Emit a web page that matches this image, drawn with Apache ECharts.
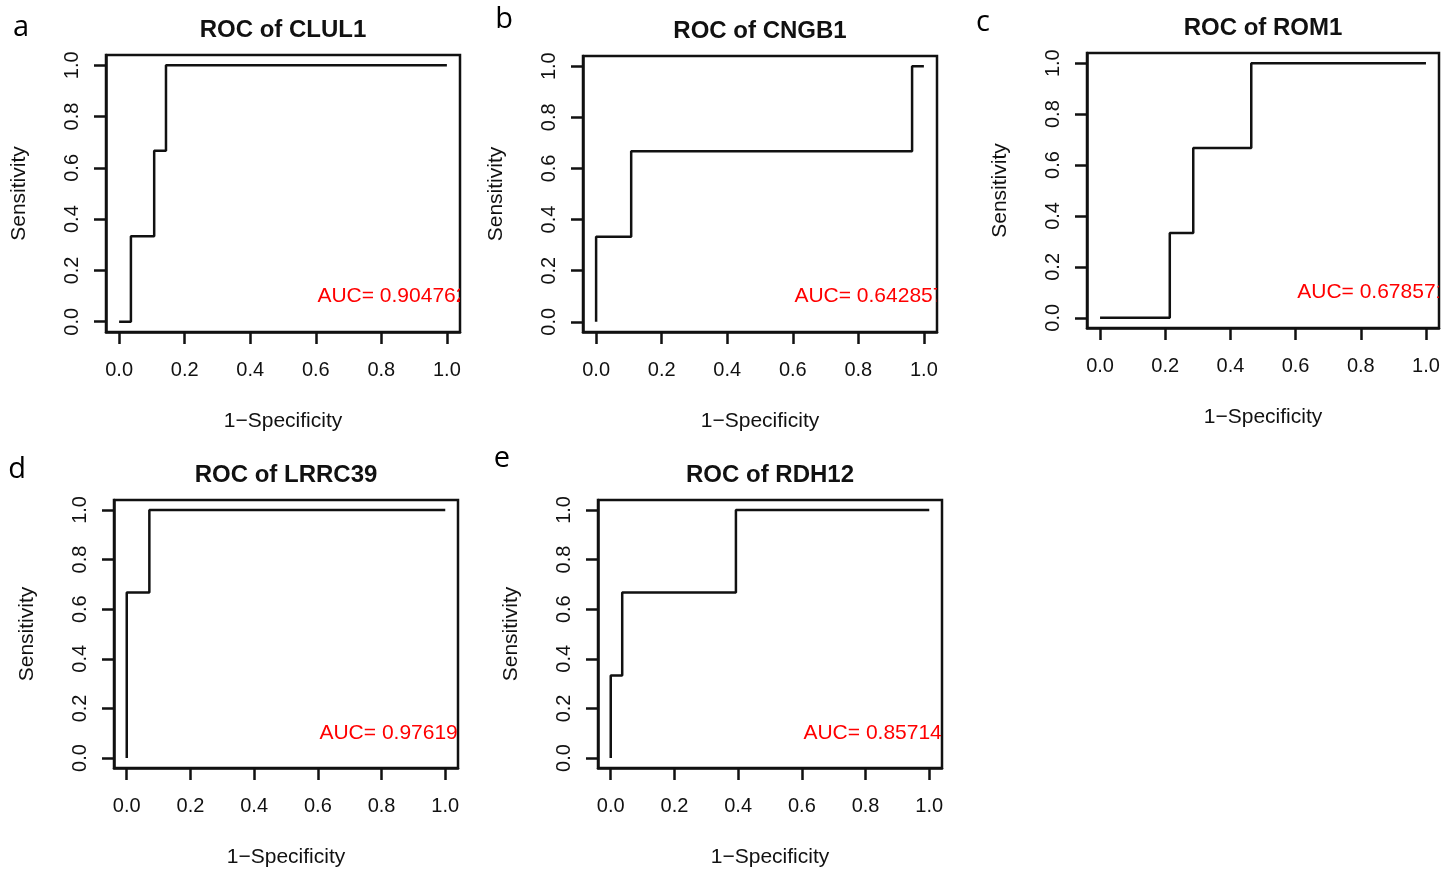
<!DOCTYPE html>
<html>
<head>
<meta charset="utf-8">
<script src="https://cdn.jsdelivr.net/npm/echarts@6/dist/echarts.min.js"></script>
<style>
  html, body { margin: 0; padding: 0; background: #fff; }
  #main { width: 1455px; height: 869px; }
</style>
</head>
<body>
<div id="main"></div>
<script>
// ROC curves, one panel per gene
var genes = ['CLUL1', 'CNGB1', 'ROM1', 'LRRC39', 'RDH12'];
var letters = ['a', 'b', 'c', 'd', 'e'];
var aucLabels = ['AUC= 0.904762', 'AUC= 0.642857', 'AUC= 0.678571', 'AUC= 0.976190', 'AUC= 0.857143'];

var fprCLUL1 = [0, 0.036, 0.036, 0.107, 0.107, 0.143, 0.143, 1];
var tprCLUL1 = [0, 0, 0.333, 0.333, 0.667, 0.667, 1, 1];
var fprCNGB1 = [0, 0, 0.107, 0.107, 0.964, 0.964, 1];
var tprCNGB1 = [0, 0.333, 0.333, 0.667, 0.667, 1, 1];
var fprROM1 = [0, 0.214, 0.214, 0.286, 0.286, 0.464, 0.464, 1];
var tprROM1 = [0, 0, 0.333, 0.333, 0.667, 0.667, 1, 1];
var fprLRRC39 = [0, 0, 0.071, 0.071, 1];
var tprLRRC39 = [0, 0.667, 0.667, 1, 1];
var fprRDH12 = [0, 0, 0.036, 0.036, 0.393, 0.393, 1];
var tprRDH12 = [0, 0.333, 0.333, 0.667, 0.667, 1, 1];

var tickValues = [0, 0.2, 0.4, 0.6, 0.8, 1];

var fprs = [fprCLUL1, fprCNGB1, fprROM1, fprLRRC39, fprRDH12];
var tprs = [tprCLUL1, tprCNGB1, tprROM1, tprLRRC39, tprRDH12];

// plot boxes [left, top, width, height]
var boxes = [
  [106, 55, 354, 277],
  [583, 56, 354, 276],
  [1087, 53, 352, 275],
  [114, 500, 344, 268],
  [598, 500, 344, 268]
];
var letterPos = [[21, 28], [504, 20], [983, 23], [17, 470], [502, 459]];

var FONT = '"Liberation Sans", Arial, sans-serif';
var INK = '#111';

var grids = [], xAxes = [], yAxes = [], series = [], graphics = [];

boxes.forEach(function (b, i) {
  grids.push({
    left: b[0], top: b[1], width: b[2], height: b[3],
    show: true, borderColor: INK, borderWidth: 2.5, backgroundColor: '#fff'
  });
  var axisCommon = {
    type: 'value', gridIndex: i, min: -0.04, max: 1.04,
    splitLine: { show: false },
    axisLine: { show: true, onZero: false, lineStyle: { color: INK, width: 2.5 } },
    axisTick: { show: true, inside: false, length: 12, customValues: tickValues, lineStyle: { color: INK, width: 2.5 } },
    axisLabel: {
      customValues: tickValues, color: INK, fontFamily: FONT, fontSize: 20,
      formatter: function (v) { return v.toFixed(1); }
    },
    nameLocation: 'middle',
    nameTextStyle: { color: INK, fontFamily: FONT, fontSize: 21 }
  };
  xAxes.push(Object.assign({}, axisCommon, {
    position: 'bottom', name: '1\u2212Specificity', nameGap: 79,
    axisLabel: Object.assign({}, axisCommon.axisLabel, { margin: 28 })
  }));
  yAxes.push(Object.assign({}, axisCommon, {
    position: 'left', name: 'Sensitivity', nameGap: 76, nameRotate: 90,
    axisLabel: Object.assign({}, axisCommon.axisLabel, { margin: 24, rotate: 90 })
  }));
  var pts = fprs[i].map(function (x, k) { return [x, tprs[i][k]]; });
  series.push({
    type: 'line', xAxisIndex: i, yAxisIndex: i, data: pts,
    showSymbol: false, symbol: 'none', silent: true,
    lineStyle: { color: INK, width: 2.5 }
  });
  // AUC text, clipped by the plot box like R does
  series.push({
    type: 'custom', xAxisIndex: i, yAxisIndex: i, clip: true, silent: true,
    data: [[0.605, 0.1]],
    renderItem: function (params, api) {
      var p = api.coord([api.value(0), api.value(1)]);
      return {
        type: 'text', x: p[0], y: p[1],
        style: { text: aucLabels[i], fill: '#ff0000', font: '21px ' + FONT, align: 'left', verticalAlign: 'middle' }
      };
    }
  });
  graphics.push({
    type: 'text', x: b[0] + b[2] / 2, y: b[1] - 25,
    style: { text: 'ROC of ' + genes[i], fill: INK, font: 'bold 24px ' + FONT, align: 'center', verticalAlign: 'middle' }
  });
  graphics.push({
    type: 'text', x: letterPos[i][0], y: letterPos[i][1],
    style: { text: letters[i], fill: '#000', font: '29px "Open Sans", sans-serif', align: 'center', verticalAlign: 'middle' }
  });
});

var chart = echarts.init(document.getElementById('main'));
chart.setOption({
  animation: false,
  backgroundColor: '#fff',
  grid: grids,
  xAxis: xAxes,
  yAxis: yAxes,
  series: series,
  graphic: graphics
});
</script>
</body>
</html>
